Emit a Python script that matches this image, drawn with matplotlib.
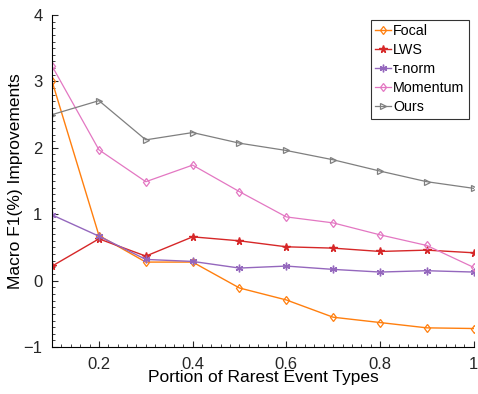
import numpy as np
from matplotlib import pyplot as plt
from matplotlib.ticker import MultipleLocator

plt.rcParams['font.family'] = ['Liberation Sans', 'DejaVu Sans']

# portion of rarest event types
portion = [0.1, 0.2, 0.3, 0.4, 0.5, 0.6, 0.7, 0.8, 0.9, 1.0]

focal = [3.00, 0.68, 0.28, 0.28, -0.11, -0.29, -0.55, -0.63, -0.71, -0.72]
lws = [0.22, 0.63, 0.37, 0.66, 0.60, 0.51, 0.49, 0.44, 0.46, 0.42]
tau_norm = [0.99, 0.67, 0.32, 0.29, 0.19, 0.22, 0.17, 0.13, 0.15, 0.13]
momentum = [3.23, 1.97, 1.49, 1.74, 1.34, 0.96, 0.87, 0.69, 0.53, 0.20]
ours = [2.50, 2.71, 2.12, 2.23, 2.07, 1.96, 1.82, 1.65, 1.49, 1.39]

fig = plt.figure(figsize=(4.78, 3.94), dpi=100)
ax = fig.add_axes([0.109, 0.119, 0.882, 0.843])

ax.plot(portion, focal, color='#ff7f0e', marker='d', mfc='none', ms=4.5, mew=0.9, lw=1.0, label='Focal')
ax.plot(portion, lws, color='#d62728', marker='*', ms=5.5, lw=1.0, label='LWS')
ax.plot(portion, tau_norm, color='#9467bd', marker=(6, 2, 0), ms=5.5, lw=1.0, label='τ-norm')
ax.plot(portion, momentum, color='#e377c2', marker='d', mfc='none', ms=4.5, mew=0.9, lw=0.9, label='Momentum')
ax.plot(portion, ours, color='#7f7f7f', marker='>', mfc='none', ms=4.5, mew=0.9, lw=0.9, label='Ours')

ax.set_xlim(0.1, 1.0)
ax.set_ylim(-1, 4)
ax.set_xticks([0.2, 0.4, 0.6, 0.8, 1.0])
ax.set_xticklabels(['0.2', '0.4', '0.6', '0.8', '1'])
ax.set_yticks([-1, 0, 1, 2, 3, 4])
ax.xaxis.set_minor_locator(MultipleLocator(0.02))
ax.yaxis.set_minor_locator(MultipleLocator(0.1))
ax.tick_params(which='both', direction='in', labelsize=12, colors='#262626')
ax.tick_params(which='major', length=4, pad=7)
ax.tick_params(which='minor', length=2)
ax.spines['top'].set_visible(False)
ax.spines['right'].set_visible(False)

ax.set_xlabel('Portion of Rarest Event Types', fontsize=12.5, labelpad=-1)
ax.set_ylabel('Macro F1(%) Improvements', fontsize=12.5, labelpad=0)

leg = ax.legend(loc='upper right', bbox_to_anchor=(0.988, 0.985), fontsize=10.3,
                frameon=True, fancybox=False, handlelength=1.1, handletextpad=0.15,
                borderpad=0.3, labelspacing=0.35, borderaxespad=0)
leg.get_frame().set_edgecolor('black')
leg.get_frame().set_linewidth(0.8)

plt.savefig('out.png', dpi=100)
